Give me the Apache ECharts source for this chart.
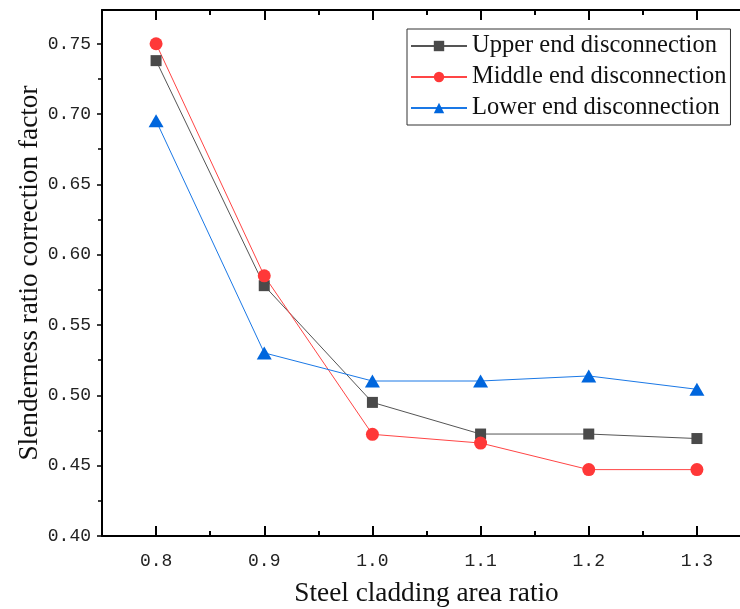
<!DOCTYPE html>
<html>
<head>
<meta charset="utf-8">
<script src="https://cdn.jsdelivr.net/npm/echarts@6/dist/echarts.min.js"></script>
<style>html,body{margin:0;padding:0;background:#fff}#c{width:740px;height:609px}</style>
</head>
<body>
<div id="c"></div>
<script>
var xValues = [0.8, 0.9, 1.0, 1.1, 1.2, 1.3];
var upperEnd = [0.738, 0.578, 0.495, 0.4725, 0.4725, 0.4693];
var middleEnd = [0.750, 0.585, 0.4723, 0.4661, 0.4472, 0.4472];
var lowerEnd = [0.6953, 0.5302, 0.5102, 0.5102, 0.5138, 0.5043];
var seriesNames = ['Upper end disconnection', 'Middle end disconnection', 'Lower end disconnection'];
var xMajorTicks = [0.8, 0.9, 1.0, 1.1, 1.2, 1.3];
var xMinorTicks = [0.85, 0.95, 1.05, 1.15, 1.25];
var yMajorTicks = [0.40, 0.45, 0.50, 0.55, 0.60, 0.65, 0.70, 0.75];
var yMinorTicks = [0.425, 0.475, 0.525, 0.575, 0.625, 0.675, 0.725];

function pairs(ys){ return xValues.map(function(x,i){ return [x, ys[i]]; }); }

var labelFont = {fontFamily: 'Liberation Mono', fontSize: 18, color: '#222'};
var titleFont = {fontFamily: 'Liberation Serif', fontSize: 27.3, color: '#111'};
var lineStyleAxis = {color: '#000', width: 2};

function xAxisDef(pos, ticks, len, showLabel, showLine, extra){
  var a = {
    type: 'value', position: pos, min: 0.75, max: 1.35,
    axisLine: {show: showLine, onZero: false, lineStyle: lineStyleAxis},
    axisTick: {show: true, inside: true, length: len, customValues: ticks, lineStyle: {color: '#000', width: 2}},
    axisLabel: showLabel ? Object.assign({show: true, margin: 16, customValues: ticks, formatter: function(v){ return v.toFixed(1); }}, labelFont) : {show: false},
    splitLine: {show: false}
  };
  return Object.assign(a, extra || {});
}
function yAxisDef(pos, ticks, len, showLabel, showLine, extra){
  var a = {
    type: 'value', position: pos, min: 0.40, max: 0.774,
    axisLine: {show: showLine, onZero: false, lineStyle: lineStyleAxis},
    axisTick: {show: true, inside: false, length: len, customValues: ticks, lineStyle: {color: '#000', width: 1.5}},
    axisLabel: showLabel ? Object.assign({show: true, margin: 11, customValues: ticks, formatter: function(v){ return v.toFixed(2); }}, labelFont) : {show: false},
    splitLine: {show: false}
  };
  return Object.assign(a, extra || {});
}

var chart = echarts.init(document.getElementById('c'), null, {renderer: 'canvas'});
chart.setOption({
  animation: false,
  backgroundColor: '#fff',
  grid: {left: 102, top: 10, width: 649, height: 526, containLabel: false, outerBoundsMode: 'none'},
  legend: {
    show: true, orient: 'vertical', left: 407, top: 29,
    itemWidth: 56, itemHeight: 13, itemGap: 1,
    padding: [2, 4, 2, 3],
    borderColor: '#333', borderWidth: 1,
    textStyle: {fontFamily: 'Liberation Serif', fontSize: 24.5, color: '#111', lineHeight: 30},
    data: seriesNames
  },
  xAxis: [
    xAxisDef('bottom', xMajorTicks, 10, true, true, {
      name: 'Steel cladding area ratio', nameLocation: 'middle', nameGap: 44, nameMoveOverlap: false,
      nameTextStyle: titleFont
    }),
    xAxisDef('bottom', xMinorTicks, 5, false, false),
    xAxisDef('top', xMajorTicks, 10, false, true),
    xAxisDef('top', xMinorTicks, 5, false, false)
  ],
  yAxis: [
    yAxisDef('left', yMajorTicks, 5, true, true, {
      name: 'Slenderness ratio correction factor', nameLocation: 'middle', nameGap: 59, nameMoveOverlap: false,
      nameTextStyle: titleFont
    }),
    yAxisDef('left', yMinorTicks, 4, false, false)
  ],
  series: [
    {
      name: seriesNames[0], type: 'line', data: pairs(upperEnd),
      symbol: 'rect', symbolSize: 11, showSymbol: true,
      lineStyle: {color: '#555555', width: 1},
      itemStyle: {color: '#4a4a4a'}
    },
    {
      name: seriesNames[1], type: 'line', data: pairs(middleEnd),
      symbol: 'circle', symbolSize: 13,
      lineStyle: {color: '#ff4545', width: 1},
      itemStyle: {color: '#ff3838'}
    },
    {
      name: seriesNames[2], type: 'line', data: pairs(lowerEnd),
      symbol: 'triangle', symbolSize: [15, 13],
      lineStyle: {color: '#1a78e6', width: 1},
      itemStyle: {color: '#0066dd'}
    }
  ]
});
</script>
</body>
</html>
